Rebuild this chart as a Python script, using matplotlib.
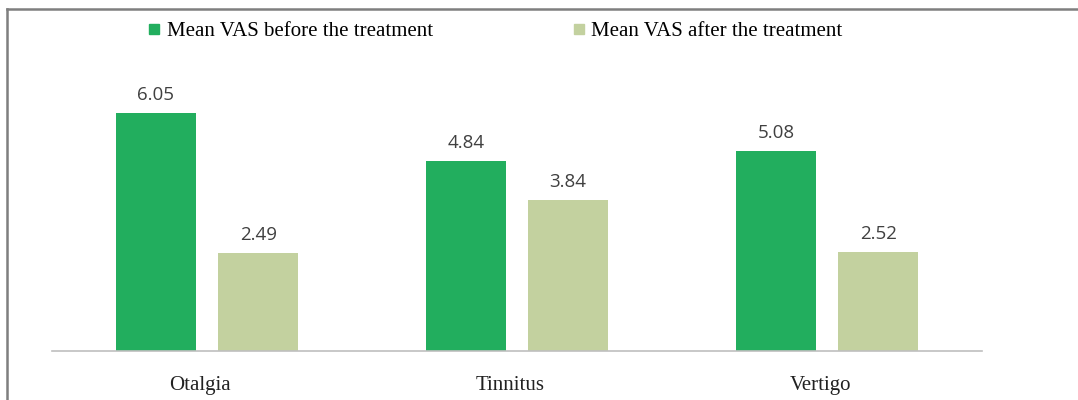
import matplotlib
matplotlib.use("Agg")
import matplotlib.pyplot as plt
from matplotlib.lines import Line2D
import numpy as np

categories = ["Otalgia", "Tinnitus", "Vertigo"]
before = [6.05, 4.84, 5.08]
after = [2.49, 3.84, 2.52]
series_names = ["Mean VAS before the treatment", "Mean VAS after the treatment"]
colors = ["#22AE5E", "#C3D19F"]

fig = plt.figure(figsize=(10.78, 4.0), dpi=100)
ax = fig.add_axes([52/1078, 49/400, 930/1078, 275/400])

x = np.arange(len(categories))
w = 0.258
off = 0.165
b1 = ax.bar(x - off, before, w, color=colors[0])
b2 = ax.bar(x + off, after, w, color=colors[1])

for bars, vals in ((b1, before), (b2, after)):
    for r, v in zip(bars, vals):
        ax.annotate(f"{v:.2f}", (r.get_x() + r.get_width()/2, v),
                    xytext=(0, 6.5), textcoords="offset points",
                    ha="center", va="bottom", fontsize=13.5,
                    color="#404040", family="Open Sans")

ax.set_xlim(-0.5, 2.5)
ax.set_ylim(0, 7)
ax.set_xticks(x - 0.022)
ax.set_xticklabels(categories, family="Liberation Serif", fontsize=15, color="#222222")
ax.tick_params(axis="x", length=0, pad=18)
ax.set_yticks([])
for s in ("left", "right", "top"):
    ax.spines[s].set_visible(False)
ax.spines["bottom"].set_color("#BFBFBF")
ax.spines["bottom"].set_linewidth(1.2)

handles = [Line2D([], [], marker="s", linestyle="none", markersize=6.5,
                  color=c) for c in colors]
fig.legend(handles, series_names, loc="center", ncol=2,
           bbox_to_anchor=(493/1078, 1 - 31/400), frameon=False,
           prop={"family": "Liberation Serif", "size": 15},
           handletextpad=0.1, columnspacing=6.5, handlelength=1.0)

# outer frame (left and top edges)
fig.add_artist(Line2D([7/1078, 7/1078], [0, 1 - 9/400], transform=fig.transFigure,
                      color="#7F7F7F", linewidth=1.8))
fig.add_artist(Line2D([7/1078, 1], [1 - 9/400, 1 - 9/400], transform=fig.transFigure,
                      color="#7F7F7F", linewidth=1.8))

fig.savefig("out.png", dpi=100)
